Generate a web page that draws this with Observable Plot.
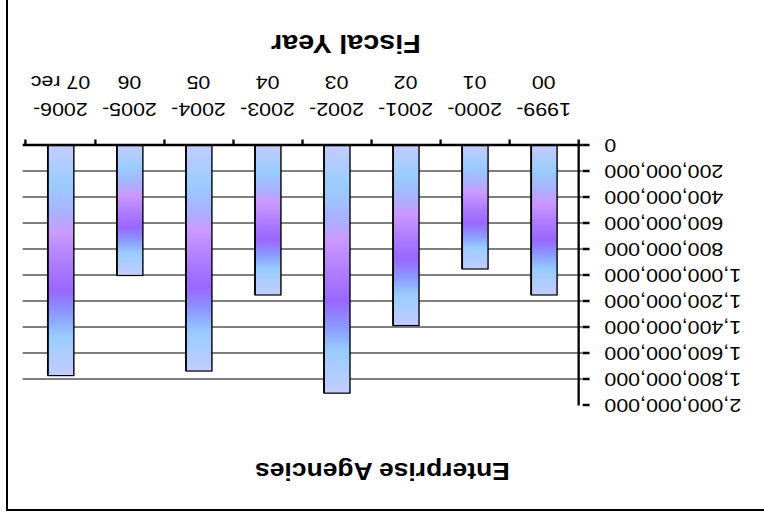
<!DOCTYPE html>
<html>
<head>
<meta charset="utf-8">
<script src="https://cdn.jsdelivr.net/npm/d3@7"></script>
<script src="https://cdn.jsdelivr.net/npm/@observablehq/plot@0.6"></script>
<style>
  html, body { margin: 0; padding: 0; background: #fff; }
  /* the whole sheet is shown turned half a revolution */
  #page { position: relative; width: 764px; height: 517px; overflow: hidden; background: #fff; transform: rotate(180deg); }
  #border { position: absolute; left: -20px; top: 6px; width: 774px; height: 600px; border: 2px solid #000; }
  #chart { position: absolute; left: 0; top: 0; transform-origin: 0 0; }
  #chart svg { display: block; }
</style>
</head>
<body>
<div id="page"><div id="border"></div><div id="chart"></div></div>
<script>
// Fiscal years and enterprise agency funding (dollars)
const years = ["1999-00", "2000-01", "2001-02", "2002-03", "2003-04", "2004-05", "2005-06", "2006-07 rec"];
const funding = [1150000000, 950000000, 1385000000, 1905000000, 1150000000, 1735000000, 1000000000, 1770000000];

// Value axis ticks
const valueTicks = [0, 200000000, 400000000, 600000000, 800000000, 1000000000,
                    1200000000, 1400000000, 1600000000, 1800000000, 2000000000];
const gridValues = valueTicks.filter(v => v > 0 && v < 2000000000);

const chartTitle = "Enterprise Agencies";
const axisTitle = "Fiscal Year";

// Drawing is laid out narrower and widened afterwards (wide lettering)
const W = 664, H = 517, S = 764 / W;
const margin = {top: 111.5, right: 19.7, bottom: 145.5, left: 157.6};
const step = (W - margin.left - margin.right) / years.length;
const barInset = (step - 23.2) / 2;

const rows = years.map((year, i) => ({year, value: funding[i]}));
const twoLine = y => y.replace("-", "-\n");

// Banded fill running from the baseline to the end of each bar
const shade = [
  [0, "#c4ccff"], [0.17, "#99ccff"], [0.30, "#aab0ff"], [0.38, "#cc99ff"],
  [0.50, "#b07fff"], [0.63, "#9966ff"], [0.73, "#8a99ff"], [0.83, "#99ccff"], [1, "#c4ccff"]
];
function gradientDefs() {
  const defs = d3.create("svg:defs");
  const g = defs.append("linearGradient")
    .attr("id", "barShade")
    .attr("x1", 0).attr("y1", 1).attr("x2", 0).attr("y2", 0);
  g.selectAll("stop").data(shade).join("stop")
    .attr("offset", d => d[0])
    .attr("stop-color", d => d[1]);
  return defs.node();
}

const chart = Plot.plot({
  width: W,
  height: H,
  marginTop: margin.top,
  marginRight: margin.right,
  marginBottom: margin.bottom,
  marginLeft: margin.left,
  style: {fontFamily: "'Liberation Sans', Arial, sans-serif", background: "transparent", color: "#000", overflow: "visible"},
  x: {type: "band", domain: years, padding: 0, axis: null},
  y: {domain: [0, 2000000000], axis: null},
  marks: [
    gradientDefs,
    Plot.ruleY(gridValues, {stroke: "#000", strokeWidth: 1}),
    // dark edge on one side of each bar
    Plot.barY(rows, {x: "year", y: "value", fill: "#000", dx: 1, insetLeft: barInset, insetRight: barInset}),
    Plot.barY(rows, {x: "year", y: "value", fill: "url(#barShade)", stroke: "#000", strokeWidth: 1.2, insetLeft: barInset, insetRight: barInset}),
    Plot.ruleY([0], {stroke: "#000", strokeWidth: 2.6}),
    // category boundary ticks
    Plot.ruleX(years, {dx: -step / 2, y1: 0, y2: 0, insetBottom: -6, stroke: "#000", strokeWidth: 2}),
    Plot.ruleX(years.slice(-1), {dx: step / 2, y1: 0, y2: 0, insetBottom: -6, stroke: "#000", strokeWidth: 2}),
    // value axis line
    Plot.ruleX(years.slice(0, 1), {dx: -step / 2, y1: 0, y2: 2000000000, stroke: "#000", strokeWidth: 2}),
    Plot.axisY({ticks: valueTicks, tickFormat: d3.format(","), tickSize: 6, tickPadding: 13.4, fontSize: 18.6, strokeWidth: 2.5, label: null}),
    Plot.text(years, {x: d => d, frameAnchor: "bottom", text: twoLine, dy: 22.5, lineAnchor: "top", lineHeight: 1.45, fontSize: 18.6, fill: "#000"}),
    Plot.text([chartTitle], {frameAnchor: "top-left", text: d => d, dx: 331.1 - margin.left, dy: 53.7 - margin.top, lineAnchor: "bottom", textAnchor: "middle", fontSize: 23, fontWeight: "bold", fill: "#000"}),
    Plot.text([axisTitle], {frameAnchor: "bottom-left", text: d => d, dx: 362.9 - margin.left, dy: 482 - (H - margin.bottom), lineAnchor: "bottom", textAnchor: "middle", fontSize: 25, fontWeight: "bold", fill: "#000"})
  ]
});

const holder = document.getElementById("chart");
holder.style.transform = `scaleX(${S})`;
holder.appendChild(chart);
</script>
</body>
</html>
